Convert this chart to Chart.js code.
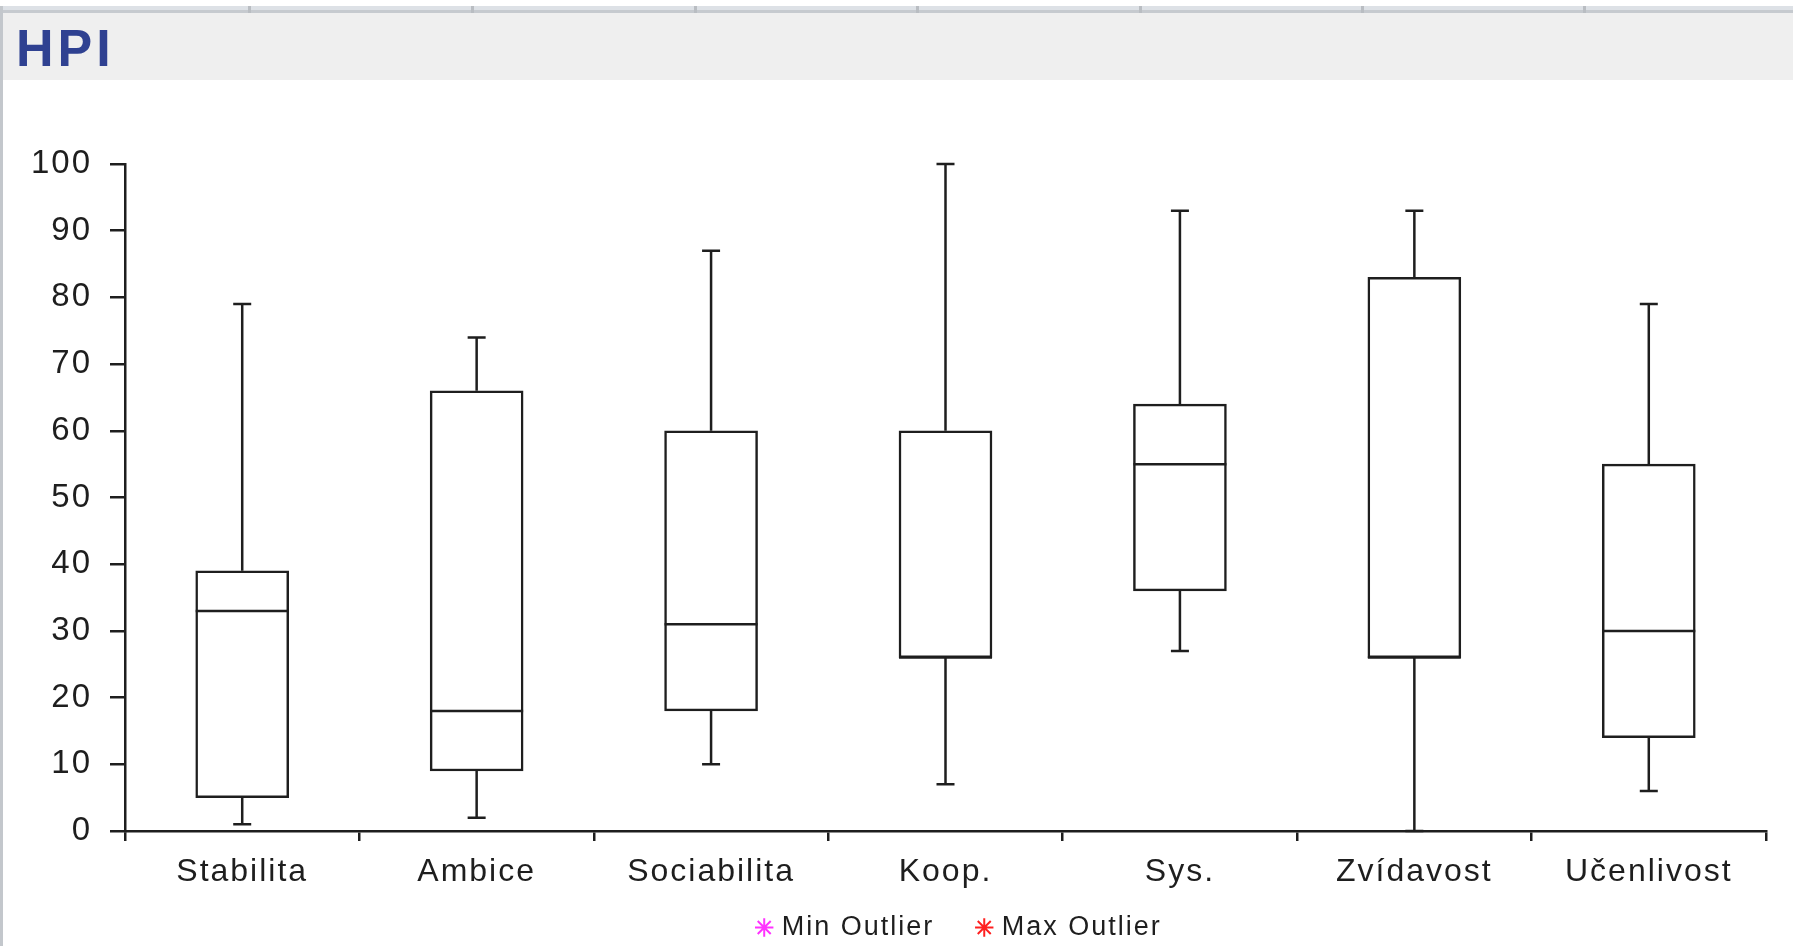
<!DOCTYPE html>
<html>
<head>
<meta charset="utf-8">
<script src="https://cdn.jsdelivr.net/npm/chart.js@4.4.1/dist/chart.umd.min.js"></script>
<style>
  body { margin: 0; background: #fff; overflow: hidden; width: 1793px; height: 946px; position: relative; font-family: "Liberation Sans", Arial, sans-serif; }
  .edge { position: absolute; left: 0; top: 6px; width: 3px; height: 940px; background: #c3c7cc; }
  .strip { position: absolute; left: 0; top: 6px; width: 1793px; height: 4px; background: #dde1e6; border-bottom: 3px solid #c6cacf; }
  .sep { position: absolute; top: 6px; width: 3px; height: 7px; background: #b9bdc2; }
  .band { position: absolute; left: 3px; top: 13px; width: 1790px; height: 67px; background: #efefef; }
  .band span { position: absolute; left: 13px; top: 5px; font-weight: bold; font-size: 52px; line-height: 60px; color: #2f4191; letter-spacing: 4px; }
  .wrap { position: absolute; left: 3px; top: 80px; width: 1790px; height: 866px; }
</style>
</head>
<body>
<div class="strip"></div>
<div class="sep" style="left:248px"></div>
<div class="sep" style="left:471px"></div>
<div class="sep" style="left:694px"></div>
<div class="sep" style="left:916px"></div>
<div class="sep" style="left:1139px"></div>
<div class="sep" style="left:1361px"></div>
<div class="sep" style="left:1583px"></div>
<div class="band"><span>HPI</span></div>
<div class="edge"></div>
<div class="wrap"><canvas id="c" width="1790" height="866"></canvas></div>
<script>
// HPI scales - box plot values
const categories = ['Stabilita', 'Ambice', 'Sociabilita', 'Koop.', 'Sys.', 'Zvídavost', 'Učenlivost'];
const minVals = [1, 2, 10, 7, 27, 0, 6];
const q1Vals = [5, 9, 18, 26, 36, 26, 14];
const medianVals = [33, 18, 31, 26, 55, 26, 30];
const q3Vals = [39, 66, 60, 60, 64, 83, 55];
const maxVals = [79, 74, 87, 100, 93, 93, 79];
const legendNames = ['Min Outlier', 'Max Outlier'];
const legendColors = ['#ff33ff', '#ff2020'];

const ink = '#1e1e1e';
const fontFam = '"Liberation Sans", Arial, sans-serif';

// floating bars for the boxes
const boxData = [];
for (let i = 0; i < categories.length; i++) {
  boxData.push([q1Vals[i], q3Vals[i]]);
}

// whiskers, caps and median lines
const whiskerPlugin = {
  id: 'whiskers',
  afterDatasetsDraw(chart) {
    const ctx = chart.ctx;
    const xs = chart.scales.x;
    const ys = chart.scales.y;
    const meta = chart.getDatasetMeta(0);
    ctx.save();
    ctx.strokeStyle = ink;
    ctx.lineWidth = 2.5;
    for (let i = 0; i < categories.length; i++) {
      const x = xs.getPixelForValue(i);
      const half = meta.data[i].width / 2;
      const cap = 9;
      const yMin = ys.getPixelForValue(minVals[i]);
      const yQ1 = ys.getPixelForValue(q1Vals[i]);
      const yMed = ys.getPixelForValue(medianVals[i]);
      const yQ3 = ys.getPixelForValue(q3Vals[i]);
      const yMax = ys.getPixelForValue(maxVals[i]);
      ctx.beginPath();
      ctx.moveTo(x, yQ3); ctx.lineTo(x, yMax);
      ctx.moveTo(x - cap, yMax); ctx.lineTo(x + cap, yMax);
      ctx.moveTo(x, yQ1); ctx.lineTo(x, yMin);
      ctx.moveTo(x - cap, yMin); ctx.lineTo(x + cap, yMin);
      ctx.moveTo(x - half, yMed); ctx.lineTo(x + half, yMed);
      ctx.stroke();
    }
    ctx.restore();
  }
};

// wider letter spacing like the original screenshot text
const spacingPlugin = {
  id: 'spacing',
  beforeLayout(chart) { chart.ctx.letterSpacing = '2px'; },
  beforeDraw(chart) { chart.ctx.letterSpacing = '2px'; },
  afterLayout(chart) {
    const lg = chart.legend;
    const dx = 958 - (lg.left + lg.right) / 2;
    lg.left += dx;
    lg.right += dx;
    lg.top += 5;
    lg.bottom += 5;
    // let the category labels show below the short axis box
    chart.scales.x.bottom += 50;
    chart.scales.x.height += 50;
  }
};

new Chart(document.getElementById('c'), {
  type: 'bar',
  data: {
    labels: categories,
    datasets: [
      {
        label: 'box',
        data: boxData,
        backgroundColor: '#ffffff',
        borderColor: ink,
        borderWidth: 2.5,
        borderSkipped: false,
        barThickness: 93
      },
      {
        type: 'line',
        label: legendNames[0],
        data: [],
        showLine: false,
        pointStyle: 'star',
        borderColor: legendColors[0],
        backgroundColor: legendColors[0],
        borderWidth: 2
      },
      {
        type: 'line',
        label: legendNames[1],
        data: [],
        showLine: false,
        pointStyle: 'star',
        borderColor: legendColors[1],
        backgroundColor: legendColors[1],
        borderWidth: 2
      }
    ]
  },
  options: {
    responsive: false,
    animation: false,
    layout: { padding: { top: 84, right: 27, left: 0, bottom: 0 } },
    plugins: {
      tooltip: { enabled: false },
      legend: {
        position: 'bottom',
        labels: {
          filter: (item) => item.text !== 'box',
          usePointStyle: true,
          boxWidth: 8,
          boxHeight: 13,
          padding: 46,
          color: ink,
          font: { family: fontFam, size: 27 }
        }
      }
    },
    scales: {
      x: {
        offset: true,
        border: { color: ink, width: 2.5 },
        grid: { offset: true, drawOnChartArea: false, tickLength: 10, color: ink, lineWidth: 2.5 },
        ticks: {
          color: ink,
          padding: 12,
          maxRotation: 0,
          autoSkip: false,
          font: { family: fontFam, size: 32 }
        },
        afterFit(scale) { scale.height = 32; }
      },
      y: {
        min: 0,
        max: 100,
        border: { color: ink, width: 2.5 },
        grid: { drawOnChartArea: false, tickLength: 15, color: ink, lineWidth: 2.5 },
        ticks: {
          stepSize: 10,
          color: ink,
          padding: 18,
          font: { family: fontFam, size: 33 }
        },
        afterFit(scale) { scale.width = 122; }
      }
    }
  },
  plugins: [whiskerPlugin, spacingPlugin]
});
</script>
</body>
</html>
